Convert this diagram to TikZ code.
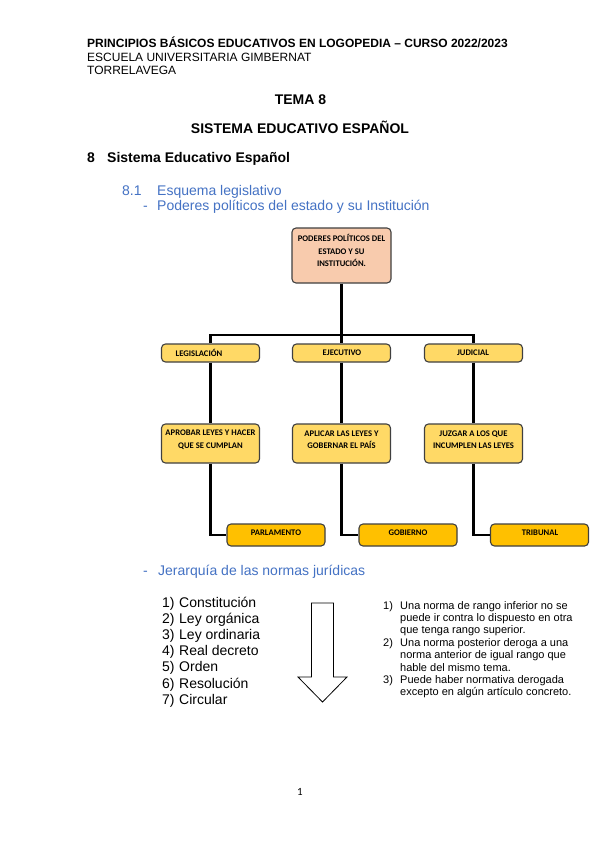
\documentclass[tikz,border=0pt]{standalone}
\usepackage{fontspec}
\setmainfont{Liberation Sans}
\newfontfamily\boxfont{Carlito}
\definecolor{headblue}{RGB}{68,114,196}
\definecolor{salmon}{RGB}{248,203,173}
\definecolor{gold}{RGB}{255,217,102}
\definecolor{amber}{RGB}{255,192,0}
\definecolor{boxline}{RGB}{64,64,64}
\begin{document}
\begin{tikzpicture}[x=1pt,y=-1pt,
  txt/.style={inner sep=0pt, anchor=base west},
  hdr/.style={txt, font=\fontsize{12}{13.5}\selectfont},
  big/.style={txt, font=\fontsize{14}{16}\selectfont},
  bluet/.style={big, text=headblue},
  listt/.style={txt, font=\fontsize{14}{16}\selectfont},
  notet/.style={txt, font=\fontsize{11}{12}\selectfont},
  box/.style={draw=boxline, line width=1.1pt, rounded corners=4pt, inner sep=0pt},
  topbox/.style={box, fill=salmon, minimum width=99pt, minimum height=55pt},
  lvbox/.style={box, fill=gold, minimum width=98pt, minimum height=18pt},
  actbox/.style={box, fill=gold, minimum width=98pt, minimum height=39pt},
  instbox/.style={box, fill=amber, minimum width=98pt, minimum height=22pt},
  btext/.style={inner sep=0pt, align=center, font=\boxfont\bfseries\fontsize{8.6}{12.5}\selectfont},
  conn/.style={line width=2.6pt, black, line join=miter}
]
\useasboundingbox[fill=white] (0,0) rectangle (599,848);

% header
\node[hdr, font=\fontsize{12}{13.5}\selectfont\bfseries] (h1) at (87,48) {PRINCIPIOS BÁSICOS EDUCATIVOS EN LOGOPEDIA – CURSO 2022/2023};
\node[hdr] (h2) at (87,62) {ESCUELA UNIVERSITARIA GIMBERNAT};
\node[hdr] (h3) at (87,75) {TORRELAVEGA};
\node[inner sep=0pt, anchor=base, font=\fontsize{14}{16}\selectfont\bfseries] (tema) at (300.5,105) {TEMA 8};
\node[inner sep=0pt, anchor=base, font=\fontsize{14}{16}\selectfont\bfseries] (sist) at (300,133) {SISTEMA EDUCATIVO ESPAÑOL};
\node[big, font=\fontsize{14}{16}\selectfont\bfseries] (s8n) at (87,162) {8};
\node[big, font=\fontsize{14}{16}\selectfont\bfseries] (s8) at (107,162) {Sistema Educativo Español};
\node[bluet] (s81n) at (122,195) {8.1};
\node[bluet] (s81) at (157,195) {Esquema legislativo};
\node[bluet] (d1) at (143,210) {-};
\node[bluet] (p1) at (157,210) {Poderes políticos del estado y su Institución};

% org chart
\node[topbox] (top) at (341.5,255.5) {};
\node[btext] (topt) at (341.5,250.5) {PODERES POLÍTICOS DEL\\ESTADO Y SU\\INSTITUCIÓN.};

\node[lvbox] (l1) at (210.5,353) {};
\node[lvbox] (l2) at (341.5,353) {};
\node[lvbox] (l3) at (473.5,353) {};
\node[btext] (l1t) at (199,352.5) {LEGISLACIÓN};
\node[btext] (l2t) at (342,352.5) {EJECUTIVO};
\node[btext] (l3t) at (473,352.5) {JUDICIAL};

\node[actbox] (a1) at (210.5,443.5) {};
\node[actbox] (a2) at (341.5,443.5) {};
\node[actbox] (a3) at (473.5,443.5) {};
\node[btext] (a1t) at (210.5,439.5) {APROBAR LEYES Y HACER\\QUE SE CUMPLAN};
\node[btext] (a2t) at (341.5,439.5) {APLICAR LAS LEYES Y\\GOBERNAR EL PAÍS};
\node[btext] (a3t) at (473.5,439.5) {JUZGAR A LOS QUE\\INCUMPLEN LAS LEYES};

\node[instbox] (b1) at (276,535) {};
\node[instbox] (b2) at (408,535) {};
\node[instbox] (b3) at (539.5,535) {};
\node[btext] (b1t) at (276,532.5) {PARLAMENTO};
\node[btext] (b2t) at (408,532.5) {GOBIERNO};
\node[btext] (b3t) at (540,532.5) {TRIBUNAL};

\coordinate (bus) at (341.5,335);
\draw[conn] (top.south) -- (l2.north);
\draw[conn] (l1.north) -- (l1.north |- bus) -- (l3.north |- bus) -- (l3.north);
\draw[conn] (l1.south) -- (a1.north);
\draw[conn] (l2.south) -- (a2.north);
\draw[conn] (l3.south) -- (a3.north);
\draw[conn] (a1.south) |- (b1.west);
\draw[conn] (a2.south) |- (b2.west);
\draw[conn] (a3.south) |- (b3.west);

% jerarquia
\node[bluet] (d2) at (143,575) {-};
\node[bluet] (p2) at (158,575) {Jerarquía de las normas jurídicas};

\foreach \i/\t in {1/Constitución,2/Ley orgánica,3/Ley ordinaria,4/Real decreto,5/Orden,6/Resolución,7/Circular}{
  \node[listt] (ln\i) at (162,{607.5+16.1*(\i-1)}) {\i)};
  \node[listt] (lt\i) at (179,{607.5+16.1*(\i-1)}) {\t};
}

\draw[line width=0.8pt, black, line join=miter] (311.5,603) -- (333.5,603) -- (333.5,677) -- (347,677) -- (322.5,702) -- (298,677) -- (311.5,677) -- cycle;

% notes
\node[notet] (n1) at (383,609) {1)};
\node[notet] (n1a) at (400,609) {Una norma de rango inferior no se};
\node[notet] (n1b) at (400,621.4) {puede ir contra lo dispuesto en otra};
\node[notet] (n1c) at (400,633.8) {que tenga rango superior.};
\node[notet] (n2) at (383,646.2) {2)};
\node[notet] (n2a) at (400,646.2) {Una norma posterior deroga a una};
\node[notet] (n2b) at (400,658.6) {norma anterior de igual rango que};
\node[notet] (n2c) at (400,671) {hable del mismo tema.};
\node[notet] (n3) at (383,683.4) {3)};
\node[notet] (n3a) at (400,683.4) {Puede haber normativa derogada};
\node[notet] (n3b) at (400,695.8) {excepto en algún artículo concreto.};

\node[inner sep=0pt, anchor=base, font=\boxfont\fontsize{11}{13}\selectfont] (pg) at (300,795) {1};
\end{tikzpicture}
\end{document}
